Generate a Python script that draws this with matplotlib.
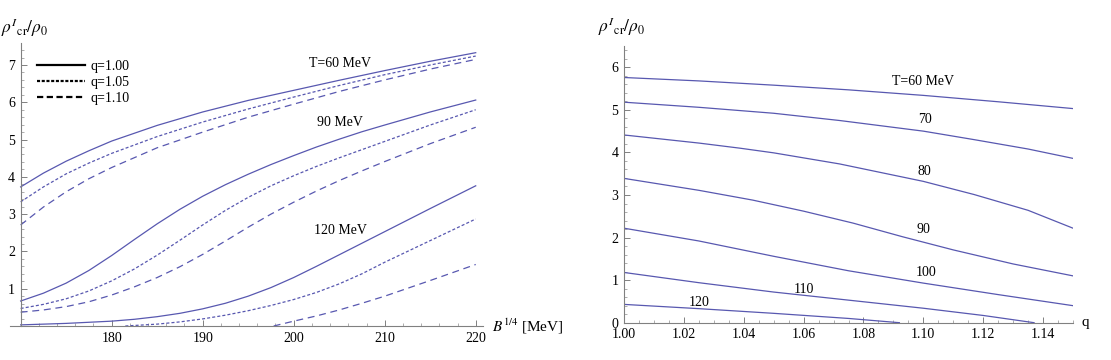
"""
Critical density rho^I_cr / rho_0 versus bag constant and versus q.
"""

from __future__ import annotations

import matplotlib

matplotlib.use("Agg")
import matplotlib.pyplot as plt
from matplotlib.lines import Line2D
from matplotlib.ticker import FormatStrFormatter, MultipleLocator

# Left panel: curves vs B^{1/4} [MeV]
b_t60 = [170, 172.5, 175, 177.5, 180, 185, 190, 195, 200, 205, 210, 215, 220]
t60_q100 = [3.73, 4.10, 4.42, 4.70, 4.96, 5.38, 5.74, 6.05, 6.32, 6.59, 6.85, 7.10, 7.33]
t60_q105 = [3.33, 3.73, 4.08, 4.37, 4.63, 5.08, 5.47, 5.82, 6.14, 6.45, 6.74, 7.00, 7.24]
t60_q110 = [2.71, 3.19, 3.60, 3.95, 4.25, 4.78, 5.20, 5.60, 5.95, 6.29, 6.60, 6.89, 7.15]

b_fine = [170, 172.5, 175, 177.5, 180, 182.5, 185, 187.5, 190, 192.5,
          195, 197.5, 200, 202.5, 205, 207.5, 210, 215, 220]
t90_q100 = [0.67, 0.88, 1.15, 1.49, 1.89, 2.32, 2.74, 3.13, 3.48, 3.79,
            4.07, 4.33, 4.57, 4.80, 5.01, 5.21, 5.39, 5.74, 6.06]
t90_q105 = [0.47, 0.58, 0.73, 0.94, 1.21, 1.53, 1.90, 2.30, 2.71, 3.10,
            3.45, 3.76, 4.03, 4.28, 4.51, 4.73, 4.95, 5.39, 5.80]
t90_q110 = [0.37, 0.43, 0.52, 0.65, 0.83, 1.05, 1.30, 1.59, 1.92, 2.28,
            2.65, 3.00, 3.32, 3.62, 3.90, 4.16, 4.41, 4.89, 5.33]
t120_q100 = [0.03, 0.05, 0.07, 0.10, 0.13, 0.18, 0.25, 0.34, 0.46, 0.61,
             0.80, 1.03, 1.30, 1.60, 1.91, 2.22, 2.53, 3.15, 3.76]
b_t120_q105 = [181.5, 185, 187.5, 190, 192.5, 195, 197.5, 200, 202.5, 205,
               207.5, 210, 215, 220]
t120_q105 = [0.0, 0.05, 0.11, 0.19, 0.29, 0.41, 0.55, 0.71, 0.90, 1.13,
             1.40, 1.71, 2.29, 2.87]
b_t120_q110 = [197.8, 200, 202.5, 205, 207.5, 210, 215, 220]
t120_q110 = [0.0, 0.13, 0.27, 0.43, 0.61, 0.80, 1.22, 1.65]

left_labels = ["T=60 MeV", "90 MeV", "120 MeV"]
left_label_b = [205.1, 205.1, 205.1]
left_label_y = [7.05, 5.47, 2.55]
legend_labels = ["q=1.00", "q=1.05", "q=1.10"]

# Right panel: curves vs q
q_grid = [1.00, 1.025, 1.05, 1.075, 1.10, 1.125, 1.15]
r_t60 = [5.76, 5.68, 5.58, 5.47, 5.34, 5.19, 5.03]
q_t70 = [1.00, 1.025, 1.05, 1.072, 1.10, 1.117, 1.135, 1.15]
r_t70 = [5.18, 5.06, 4.92, 4.75, 4.50, 4.30, 4.08, 3.86]
q_t80 = [1.00, 1.025, 1.0387, 1.05, 1.072, 1.10, 1.117, 1.135, 1.15]
r_t80 = [4.41, 4.22, 4.10, 3.99, 3.73, 3.32, 3.01, 2.64, 2.22]
q_t90 = [1.00, 1.025, 1.043, 1.06, 1.0765, 1.093, 1.11, 1.13, 1.15]
r_t90 = [3.39, 3.11, 2.88, 2.62, 2.34, 2.02, 1.71, 1.38, 1.10]
r_t100 = [2.22, 1.92, 1.56, 1.22, 0.93, 0.66, 0.40]
q_t110 = [1.00, 1.025, 1.05, 1.075, 1.10, 1.12, 1.137]
r_t110 = [1.18, 0.94, 0.72, 0.53, 0.34, 0.17, 0.0]
q_t120 = [1.00, 1.025, 1.05, 1.075, 1.092]
r_t120 = [0.43, 0.33, 0.22, 0.10, 0.0]

right_labels = ["T=60 MeV", "70", "80", "90", "100", "110", "120"]
right_label_q = [1.100, 1.1005, 1.1005, 1.100, 1.101, 1.060, 1.025]
right_label_y = [5.67, 4.78, 3.56, 2.18, 1.17, 0.77, 0.47]

W, H = 1111, 360
LINE_COLOR = "#5858b0"
AXIS_COLOR = "#808080"
LW = 0.9
SOLID = "-"
SHORT_DASH = (0, (2.2, 1.5))
LONG_DASH = (0, (5.0, 3.4))
YLABEL = r"$\rho^{I}{}_{\mathrm{cr}}/\rho_0$"

plt.rcParams["font.family"] = ["Liberation Serif", "DejaVu Serif"]
plt.rcParams["mathtext.fontset"] = "stix"
plt.rcParams["font.size"] = 10
plt.rcParams["lines.scale_dashes"] = False


def px_axes(fig, left, top, right, bottom):
    """Add an axes from pixel edges (origin top-left)."""
    return fig.add_axes([left / W, (H - bottom) / H, (right - left) / W, (bottom - top) / H])


def style_axes(ax, xmajor, xminor, ymajor, yminor):
    for side in ("top", "right"):
        ax.spines[side].set_visible(False)
    for side in ("left", "bottom"):
        ax.spines[side].set_color(AXIS_COLOR)
        ax.spines[side].set_linewidth(0.8)
    ax.xaxis.set_major_locator(MultipleLocator(xmajor))
    ax.xaxis.set_minor_locator(MultipleLocator(xminor))
    ax.yaxis.set_major_locator(MultipleLocator(ymajor))
    ax.yaxis.set_minor_locator(MultipleLocator(yminor))
    ax.tick_params(which="major", direction="in", length=4, width=0.7,
                   color=AXIS_COLOR, labelsize=10, pad=4)
    ax.tick_params(which="minor", direction="in", length=2, width=0.6,
                   color="#a0a0a0")
    ax.patch.set_visible(False)


def plot_left(fig):
    ax = px_axes(fig, 10, 43, 483, 326)
    ax.set_xlim(168.83, 220.8)
    ax.set_ylim(0, 7.59)
    style_axes(ax, 10, 2, 1, 0.2)
    ax.spines["left"].set_position(("data", 170))
    ax.set_xticks([180, 190, 200, 210, 220])
    ax.set_yticks([1, 2, 3, 4, 5, 6, 7])

    ax.plot(b_t60, t60_q100, color=LINE_COLOR, lw=LW, ls=SOLID)
    ax.plot(b_t60, t60_q105, color=LINE_COLOR, lw=LW, ls=SHORT_DASH)
    ax.plot(b_t60, t60_q110, color=LINE_COLOR, lw=LW, ls=LONG_DASH)
    ax.plot(b_fine, t90_q100, color=LINE_COLOR, lw=LW, ls=SOLID)
    ax.plot(b_fine, t90_q105, color=LINE_COLOR, lw=LW, ls=SHORT_DASH)
    ax.plot(b_fine, t90_q110, color=LINE_COLOR, lw=LW, ls=LONG_DASH)
    ax.plot(b_fine, t120_q100, color=LINE_COLOR, lw=LW, ls=SOLID)
    ax.plot(b_t120_q105, t120_q105, color=LINE_COLOR, lw=LW, ls=SHORT_DASH)
    ax.plot(b_t120_q110, t120_q110, color=LINE_COLOR, lw=LW, ls=LONG_DASH)

    for text, bx, by in zip(left_labels, left_label_b, left_label_y):
        ax.text(bx, by, text, ha="center", va="center", fontsize=10)

    handles = [
        Line2D([], [], color="black", lw=1.6, ls=SOLID),
        Line2D([], [], color="black", lw=1.6, ls=(0, (2.2, 1.2))),
        Line2D([], [], color="black", lw=1.6, ls=(0, (4.5, 2.5))),
    ]
    ax.legend(handles, legend_labels, loc="upper left", bbox_to_anchor=(0.058, 0.94),
              frameon=False, borderpad=0, borderaxespad=0, handlelength=3.45,
              handletextpad=0.4, labelspacing=0.2, fontsize=10)

    ax.text(-0.019, 1.035, YLABEL, transform=ax.transAxes,
            ha="left", va="baseline", fontsize=12.5)
    ax.text(1.02, 0.0, r"$B^{1/4}$ [MeV]", transform=ax.transAxes,
            ha="left", va="center", fontsize=11)


def plot_right(fig):
    ax = px_axes(fig, 624, 46, 1073, 322.7)
    ax.set_xlim(1.0, 1.15)
    ax.set_ylim(0, 6.5)
    style_axes(ax, 0.02, 0.005, 1, 0.2)
    ax.xaxis.set_major_formatter(FormatStrFormatter("%.2f"))

    ax.plot(q_grid, r_t60, color=LINE_COLOR, lw=LW)
    ax.plot(q_t70, r_t70, color=LINE_COLOR, lw=LW)
    ax.plot(q_t80, r_t80, color=LINE_COLOR, lw=LW)
    ax.plot(q_t90, r_t90, color=LINE_COLOR, lw=LW)
    ax.plot(q_grid, r_t100, color=LINE_COLOR, lw=LW)
    ax.plot(q_t110, r_t110, color=LINE_COLOR, lw=LW)
    ax.plot(q_t120, r_t120, color=LINE_COLOR, lw=LW)

    for text, qx, qy in zip(right_labels, right_label_q, right_label_y):
        ax.text(qx, qy, text, ha="center", va="center", fontsize=10)

    ax.text(-0.058, 1.05, YLABEL, transform=ax.transAxes,
            ha="left", va="baseline", fontsize=12.5)
    ax.text(1.02, 0.0, "q", transform=ax.transAxes, ha="left", va="center", fontsize=11)


def main() -> None:
    fig = plt.figure(figsize=(W / 100, H / 100), dpi=100)
    plot_left(fig)
    plot_right(fig)
    fig.savefig("out.png", dpi=100)
    plt.close(fig)


if __name__ == "__main__":
    main()
